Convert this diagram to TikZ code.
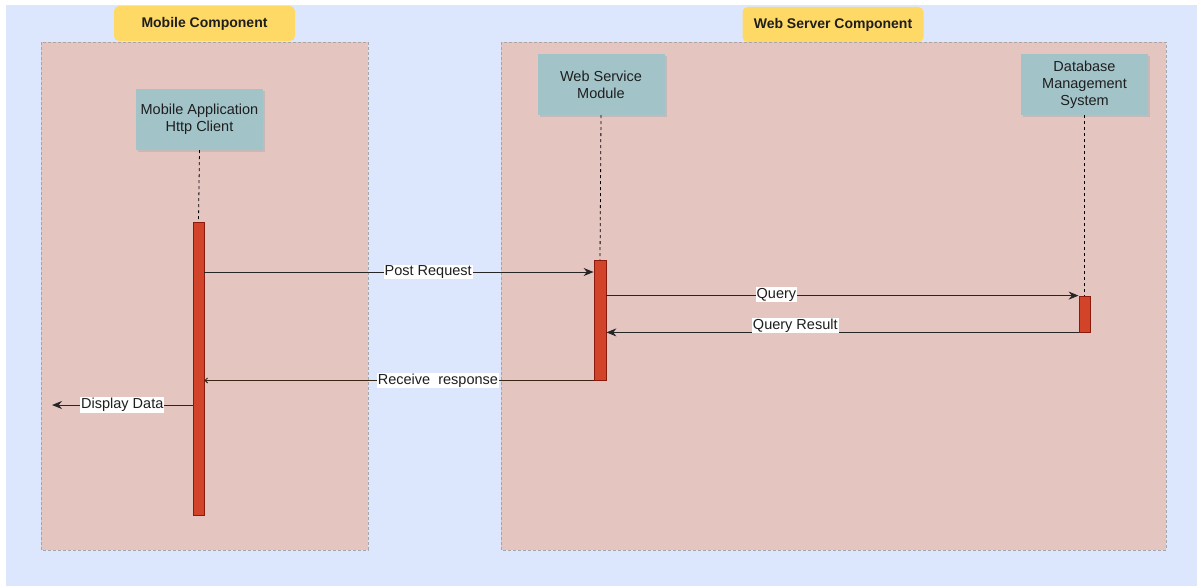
\documentclass[tikz,border=0pt]{standalone}
\usepackage{fontspec}
\setmainfont{Liberation Sans}
\usetikzlibrary{arrows.meta,shadows}
\definecolor{bgblue}{HTML}{DCE7FD}
\definecolor{panel}{HTML}{E4C5C0}
\definecolor{teal}{HTML}{A2C4C9}
\definecolor{ylw}{HTML}{FFD966}
\definecolor{barfill}{HTML}{D14429}
\definecolor{bardraw}{HTML}{8A1A0C}
\definecolor{txt}{HTML}{1E1E1E}
\tikzset{
  x=1pt,y=-1pt,
  panelbox/.style={draw=gray!70,dash pattern=on 3pt off 2pt,fill=panel,line width=0.7pt},
  titlebox/.style={fill=ylw,rounded corners=5pt,minimum width=181pt,minimum height=35pt,font=\fontsize{14}{16}\selectfont\bfseries,text=txt},
  actor/.style={fill=teal,minimum width=127pt,minimum height=61pt,align=center,font=\fontsize{14.5}{17}\selectfont,text=txt,
     drop shadow={shadow xshift=2pt,shadow yshift=-2pt,fill=gray!60,opacity=0.6}},
  actbar/.style={fill=barfill,draw=bardraw,line width=0.8pt,inner sep=0pt},
  life/.style={draw=black,line width=0.8pt,dash pattern=on 3pt off 3pt},
  msg/.style={draw=black!85,line width=1pt,-{Stealth[length=10pt,width=8pt]}},
  ret/.style={draw=black!70!brown,line width=1pt,-{Straight Barb[length=2.5pt,width=5pt]}},
  lbl/.style={fill=white,inner sep=1pt,font=\fontsize{14.5}{17}\selectfont,text=txt},
}
\begin{document}
\begin{tikzpicture}
\useasboundingbox (0,0) rectangle (1197,586);
\fill[white] (0,0) rectangle (1197,586);
\fill[bgblue] (6,5) rectangle (1197,586);
% panels
\path[panelbox] (41,42) rectangle (368,550);
\path[panelbox] (501,42) rectangle (1166,550);
% titles
\node[titlebox] (tmob) at (204.5,23.5) {Mobile Component};
\node[titlebox] (tweb) at (833,24.5) {Web Server Component};
% actors
\node[actor] (mob) at (199.5,119.5) {Mobile Application\\Http Client};
\node[actor] (wsm) at (601,84.5) {Web Service\\Module};
\node[actor] (dbm) at (1084.5,84.5) {Database\\Management\\System};
% activation bars
\node[actbar,minimum width=11pt,minimum height=293pt] (mb) at (198.5,368.5) {};
\node[actbar,minimum width=12pt,minimum height=120pt] (wb) at (600,320) {};
\node[actbar,minimum width=11pt,minimum height=36pt] (db) at (1084.5,314) {};
% lifelines
\draw[life] (mob.south) -- (mb.north);
\draw[life] (wsm.south) -- (wb.north);
\draw[life] (dbm.south) -- (db.north);
% messages
\draw[msg] (mb.east |- 0,272) -- node[lbl,pos=0.575] {Post Request} (wb.west |- 0,272);
\draw[msg] (wb.east |- db.north) -- node[lbl,pos=0.36,yshift=1pt] {Query} (db.north west);
\draw[msg] (db.south west) -- node[lbl,pos=0.6,yshift=7pt] {Query Result} (wb.east |- db.south);
\draw[ret] (wb.south west) -- node[lbl,pos=0.4] {Receive\ \ response} (mb.east |- wb.south);
\coordinate (dd) at (52,405);
\draw[msg] (mb.west |- dd) -- node[lbl,pos=0.5] {Display Data} (dd);
\end{tikzpicture}
\end{document}
